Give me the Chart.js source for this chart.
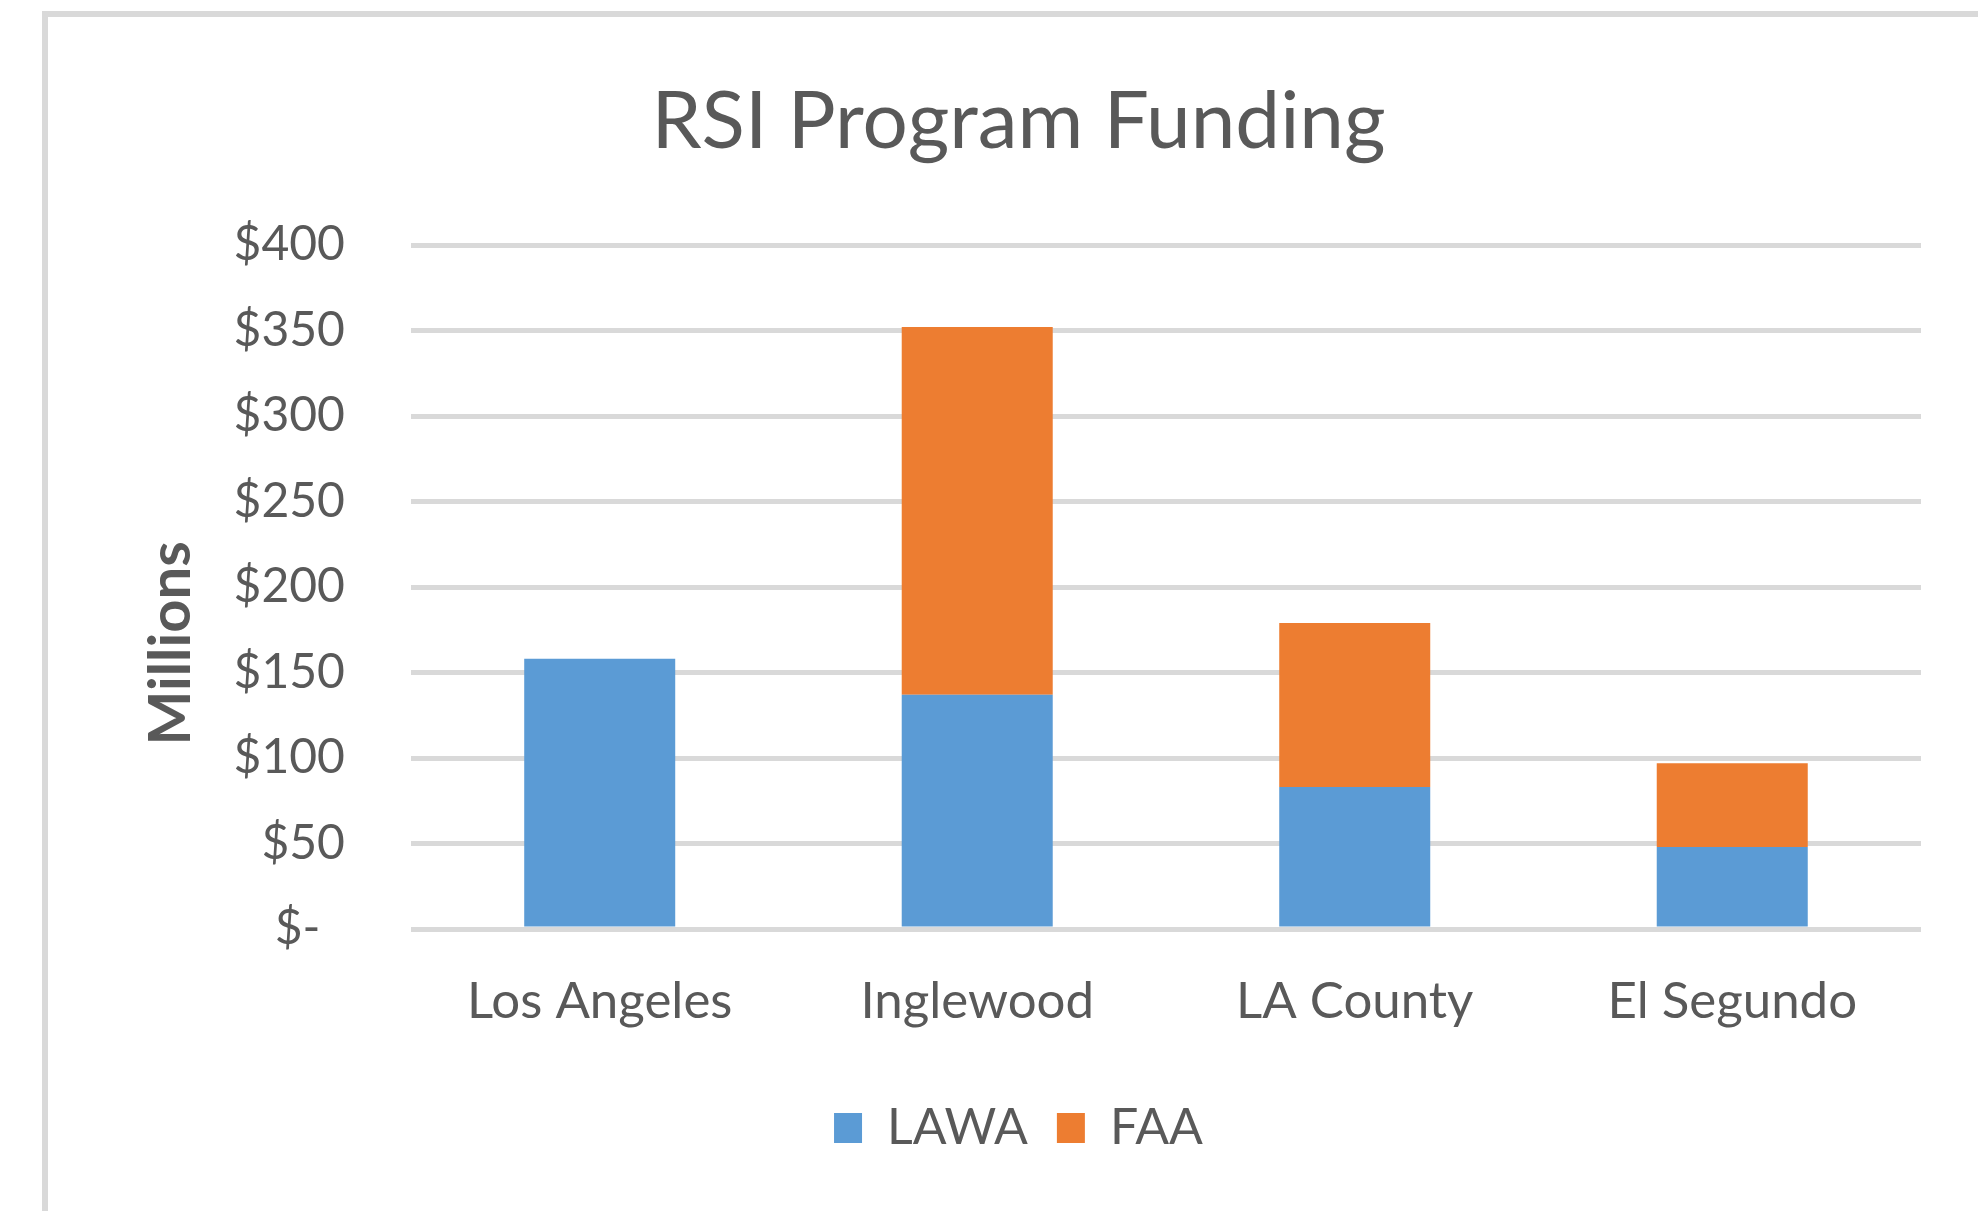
<!DOCTYPE html>
<html>
<head>
<meta charset="utf-8">
<script src="https://cdn.jsdelivr.net/npm/chart.js@4"></script>
<style>
  html, body { margin: 0; padding: 0; background: #fff; overflow: hidden; }
  #frame { position: absolute; left: 42px; top: 11px; width: 2100px; height: 1400px; border: 6px solid #d9d9d9; box-sizing: border-box; }
  #wrap { position: absolute; left: 0; top: 0; width: 1978px; height: 1211px; }
</style>
</head>
<body>
<div id="frame"></div>
<div id="wrap"><canvas id="graficoFunding"></canvas></div>
<script>
const categorie = ['Los Angeles', 'Inglewood', 'LA County', 'El Segundo'];
const lawa = [158, 137, 83, 48];
const faa = [0, 215, 96, 49];
const tickValori = [0, 50, 100, 150, 200, 250, 300, 350, 400];

const grigio = '#595959';
const font = 'Lato, "Open Sans", sans-serif';

function etichettaY(v) {
    if (v === 0) return '$-  ';
    return '$' + v;
}

const ctx = document.getElementById('graficoFunding').getContext('2d');
let mioGrafico = new Chart(ctx, {
    type: 'bar',
    data: {
        labels: categorie,
        datasets: [
            { label: 'LAWA', data: lawa, backgroundColor: '#5B9BD5', barPercentage: 0.8, categoryPercentage: 0.5 },
            { label: 'FAA', data: faa, backgroundColor: '#ED7D31', barPercentage: 0.8, categoryPercentage: 0.5 }
        ]
    },
    options: {
        responsive: true, maintainAspectRatio: false, animation: false,
        layout: { padding: { left: 116, right: 57, top: 30, bottom: 48 } },
        plugins: {
            title: { display: true, text: 'RSI Program Funding', color: grigio, font: { family: font, size: 80, weight: 'normal' }, padding: { top: 44, bottom: 75 } },
            legend: {
                position: 'bottom',
                labels: { color: grigio, font: { family: font, size: 50 }, boxWidth: 28, boxHeight: 30, padding: 29 }
            },
            tooltip: { enabled: false }
        },
        scales: {
            x: {
                stacked: true,
                grid: { display: false, drawTicks: false },
                border: { display: false },
                ticks: { color: grigio, font: { family: font, size: 51, lineHeight: 1.0 }, padding: 47 }
            },
            y: {
                stacked: true, min: 0, max: 400,
                afterBuildTicks: (s) => { s.ticks = tickValori.map(v => ({ value: v })); },
                grid: { color: '#d9d9d9', lineWidth: 5, drawTicks: false },
                border: { display: false },
                ticks: { color: grigio, font: { family: font, size: 48 }, padding: 66, callback: etichettaY },
                title: { display: true, text: 'Millions        ', color: grigio, font: { family: font, size: 58, weight: 'bold' }, padding: { top: 20, bottom: -38 } }
            }
        }
    }
});
</script>
</body>
</html>
